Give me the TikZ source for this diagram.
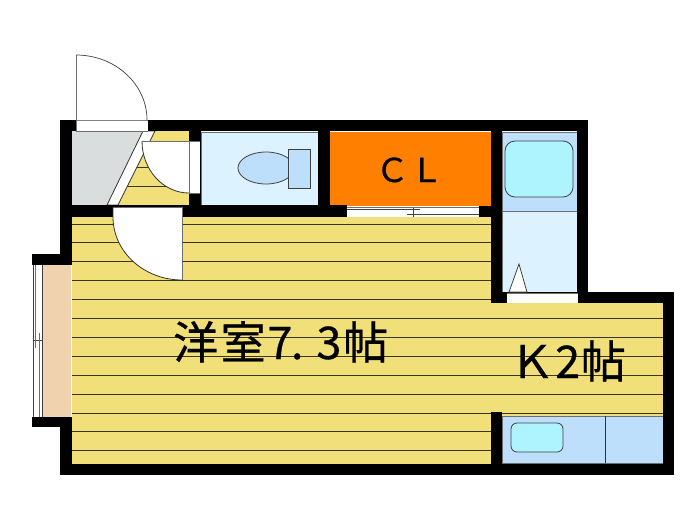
\documentclass[tikz,border=0pt]{standalone}
\usepackage{fontspec}
\newfontfamily\cjk[FakeBold=0.6]{Noto Sans CJK JP}
\usetikzlibrary{calc}
\definecolor{flooryellow}{HTML}{F1E07A}
\definecolor{floorline}{HTML}{3A3618}
\definecolor{paleblue}{HTML}{DDF2FF}
\definecolor{midblue}{HTML}{BDDFFB}
\definecolor{cyanfix}{HTML}{AEF4FF}
\definecolor{closet}{HTML}{FF7F00}
\definecolor{entry}{HTML}{DADDDE}
\definecolor{peach}{HTML}{F0D2AE}
\definecolor{edgegrey}{HTML}{6E6E6E}
\newcommand{\hw}[1]{\makebox[.5em]{#1}}
\tikzset{
  wall/.style={fill=black,draw=none},
  openwhite/.style={fill=white,draw=none},
  thin edge/.style={draw=edgegrey,line width=.7pt},
  fixture/.style={draw=black!75,line width=.8pt},
  label/.style={text=black,inner sep=0pt,anchor=base west},
}
\begin{document}
\begin{tikzpicture}[x=1pt,y=-1pt]
\useasboundingbox (0,0) rectangle (700,525);
% floors
\path[fill=flooryellow] (72,217) -- (491,217) -- (491,303) -- (663,303) -- (663,416) -- (491,416) -- (491,464) -- (72,464) -- cycle;
\path[fill=flooryellow] (155,131) -- (189,131) -- (189,205) -- (118,205) -- cycle;
\begin{scope}
\clip (72,217) -- (491,217) -- (491,303) -- (663,303) -- (663,416) -- (491,416) -- (491,464) -- (72,464) -- cycle
      (155,131) -- (189,131) -- (189,205) -- (118,205) -- cycle;
\foreach \k in {-3,...,12}
  \draw[floorline,line width=.9pt] (60,224+18.9*\k) -- (670,224+18.9*\k);
\end{scope}
% entry
\path[fill=entry] (72,131) -- (143,131) -- (107,205) -- (72,205) -- cycle;
\path[fill=white,draw=black!80,line width=.8pt] (143,131) -- (155,131) -- (118,205) -- (107,205) -- cycle;
% rooms
\path[fill=paleblue,thin edge] (201,132) rectangle (318,205);
\path[fill=closet] (330,132) rectangle (491,205.5);
\path[fill=midblue,thin edge] (502,132) rectangle (577,211);
\path[fill=paleblue,thin edge] (502,211) rectangle (577,292);
\path[fill=midblue,thin edge] (502,416) rectangle (663,463);
\draw[black!80,line width=.7pt] (605,416) -- (605,463);
\path[fill=peach] (42,265) rectangle (71,417);
% walls
\path[wall] (60,120) rectangle (588,131);
\path[wall] (60,120) rectangle (72,254);
\path[wall] (32,254) rectangle (72,265);
\path[wall] (32,417) rectangle (72,427);
\path[wall] (60,417) rectangle (72,475);
\path[wall] (60,464) rectangle (674,475);
\path[wall] (60,205) rectangle (347,217);
\path[wall] (479,205.5) rectangle (502,217);
\path[wall] (189,120) rectangle (201,217);
\path[wall] (318,120) rectangle (330,217);
\path[wall] (491,120) rectangle (502,303);
\path[wall] (577,120) rectangle (588,303);
\path[wall] (491,292) rectangle (674,303);
\path[wall] (663,292) rectangle (674,475);
\path[wall] (491,412) rectangle (502,475);
% fixtures: toilet
\path[fill=midblue,fixture] (266,168) ellipse [x radius=28,y radius=16];
\path[fill=midblue,fixture] (288,149) rectangle (310,188);
% fixtures: bath and sink
\path[fill=cyanfix,fixture,rounded corners=10pt] (505,141) rectangle (573,197);
\path[fill=cyanfix,fixture,rounded corners=6pt] (511,423) rectangle (563,452);
% utility triangle and opening
\path[fill=white,fixture] (519,264) -- (527,292) -- (509,292) -- cycle;
\path[openwhite] (507,293) rectangle (578,303);
\draw[edgegrey,line width=.6pt] (507,293) -- (578,293);
% closet door
\path[openwhite] (347,207) rectangle (479,217);
\draw[black!75,line width=.7pt] (347,209.5) -- (420,209.5) (407,214.5) -- (479,214.5) (413,207) -- (413,217);
\draw[edgegrey,line width=.6pt] (347,207) -- (479,207);
% window
\path[openwhite] (33,265) rectangle (42,417);
\draw[black!75,line width=.6pt] (33,265) -- (33,417) (42,265) -- (42,417) (33,340) -- (42,340);
\draw[edgegrey,line width=.7pt] (35.5,265) -- (35.5,348) (39,333) -- (39,417);
% entrance door
\path[openwhite] (76,120) rectangle (148,131);
\draw[edgegrey,line width=.8pt] (76,120) -- (148,120) (76,131) -- (148,131);
\path[fill=white,draw=none] (76,120) -- (76,55) arc [start angle=-90,end angle=0,x radius=71,y radius=65] -- cycle;
\draw[edgegrey,line width=.9pt] (76.5,131) -- (76.5,55);
\draw[black!75,line width=.7pt] (76,55) arc [start angle=-90,end angle=0,x radius=71,y radius=65];
% toilet door
\path[openwhite] (189,141) rectangle (200,193);
\path[fill=white,draw=none] (189,141) -- (142,141) arc [start angle=180,end angle=90,x radius=47,y radius=52] -- cycle;
\draw[edgegrey,line width=.7pt] (142,141) -- (200,141) (189,193) -- (200,193) (189,141) -- (189,193);
\draw[black!80,line width=.8pt] (142,141) arc [start angle=180,end angle=90,x radius=47,y radius=52];
% room door
\path[openwhite] (113,207) rectangle (182,217);
\draw[edgegrey,line width=.7pt] (113,207) -- (182,207);
\path[fill=white,draw=none] (182,217) -- (113,217) arc [start angle=180,end angle=90,x radius=69,y radius=63] -- cycle;
\draw[edgegrey,line width=.9pt] (182,207) -- (182,280);
\draw[black!80,line width=.8pt] (113,207) -- (113,217) arc [start angle=180,end angle=90,x radius=69,y radius=63];
% labels
\node[label,font=\cjk\fontsize{45}{45}\selectfont] (room) at (173,359) {洋\kern2.5pt 室\kern3pt \hw{7}\makebox[12pt]{.}\kern14.5pt \hw{3}\kern3pt 帖};
\node[label,font=\cjk\fontsize{45}{45}\selectfont] (kitchen) at (509.5,378) {Ｋ\kern1.75pt \hw{2}\kern2pt 帖};
\node[label,font=\cjk\fontsize{33}{33}\selectfont] (cl) at (375.5,182) {Ｃ\kern1.5pt Ｌ};
\end{tikzpicture}
\end{document}
